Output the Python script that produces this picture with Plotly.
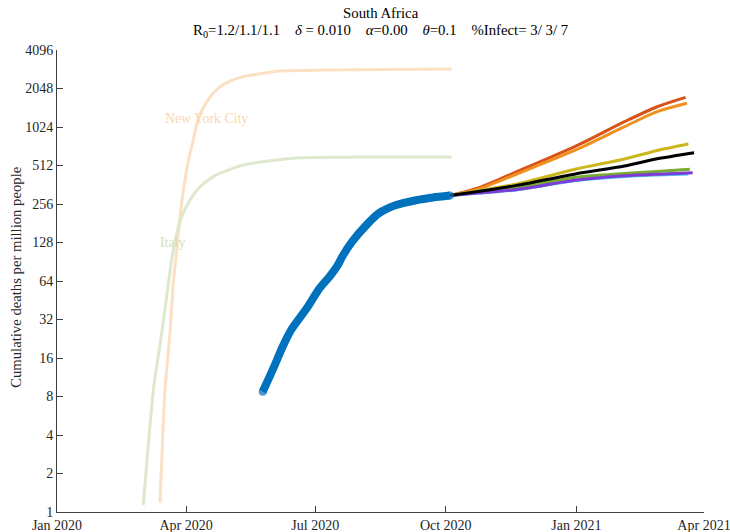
import plotly.graph_objects as go

# ---------------- data ----------------
nyc_dates = ["2020-03-13 14:00", "2020-03-17 02:00", "2020-03-20 14:00", "2020-03-22 23:00",
             "2020-03-25 10:00", "2020-03-27 17:00", "2020-03-31 05:00", "2020-04-03 17:00",
             "2020-04-06 02:00", "2020-04-09 14:00", "2020-04-14 07:00", "2020-04-19 00:00",
             "2020-04-24 22:00", "2020-05-01 22:00", "2020-05-11 07:00", "2020-05-20 17:00",
             "2020-06-06", "2020-07-11", "2020-10-05"]
nyc_vals = [1.18, 9.0, 24.9, 61.4, 112, 204, 394, 638, 810, 1199, 1520, 1823,
            2115, 2340, 2535, 2645, 2805, 2860, 2913]

italy_dates = ["2020-03-01 19:00", "2020-03-08 22:00", "2020-03-14 19:00", "2020-03-18 07:00",
               "2020-03-21 19:00", "2020-03-25 10:00", "2020-03-28 22:00", "2020-04-03 17:00",
               "2020-04-10 19:00", "2020-04-20 02:00", "2020-05-01 22:00", "2020-05-13 17:00",
               "2020-05-28 22:00", "2020-06-18", "2020-08-03 14:00", "2020-10-05"]
italy_vals = [1.13, 9.0, 24.9, 48.3, 93.4, 151, 204, 275, 349, 419, 478, 523,
              555, 586, 596, 596]

sa_dates = ["2020-05-25", "2020-06-01", "2020-06-08", "2020-06-14", "2020-06-25",
            "2020-07-04", "2020-07-11", "2020-07-17", "2020-07-20", "2020-07-27",
            "2020-08-06", "2020-08-15", "2020-08-27", "2020-09-10", "2020-09-22", "2020-10-04"]
sa_vals = [8.72, 12.9, 19.6, 26.5, 39.1, 56, 69, 85.5, 99, 130, 175, 217, 251, 274, 288, 298]

proj_dates = ["2020-10-04", "2020-10-25", "2020-11-20", "2021-01-01", "2021-02-04", "2021-02-27"]
proj_end_dates = ["2021-03-19", "2021-03-20", "2021-03-21", "2021-03-22", "2021-03-21", "2021-03-24", "2021-03-25"]
proj_red = [298, 345, 458, 730, 1127, 1475, 1747]
proj_orange = [298, 338, 439, 680, 1030, 1350, 1570]
proj_yellow = [298, 326, 367, 481, 576, 671, 754]
proj_green = [298, 318, 343, 415, 443, 460, 478]
proj_lightblue = [298, 312, 330, 390, 420, 432, 440]
proj_purple = [298, 313, 332, 394, 425, 438, 449]
proj_black = [298, 322, 358, 442, 508, 578, 645]

y_ticks = [1, 2, 4, 8, 16, 32, 64, 128, 256, 512, 1024, 2048, 4096]
x_ticks = ["2020-01-01", "2020-04-01", "2020-07-01", "2020-10-01", "2021-01-01", "2021-04-01"]
x_ticktext = ["Jan 2020", "Apr 2020", "Jul 2020", "Oct 2020", "Jan 2021", "Apr 2021"]

FONT = "Liberation Serif"
AX = "#404040"
TXT = "#262626"
SP = "\u00a0\u00a0\u00a0\u00a0"

fig = go.Figure()

fig.add_trace(go.Scatter(x=nyc_dates, y=nyc_vals, mode="lines",
                         line=dict(color="#FBE0C4", width=3, shape="spline", smoothing=0.5),
                         showlegend=False))
fig.add_trace(go.Scatter(x=italy_dates, y=italy_vals, mode="lines",
                         line=dict(color="#DEE8CC", width=3, shape="spline", smoothing=0.5),
                         showlegend=False))

proj_series = [
    (proj_red, "#D95319", 0),
    (proj_orange, "#F0901E", 1),
    (proj_yellow, "#CDB71E", 2),
    (proj_green, "#77AC30", 3),
    (proj_lightblue, "#4DBEEE", 4),
    (proj_purple, "#7E3BD6", 5),
    (proj_black, "#000000", 6),
]
for vals, col, i in proj_series:
    fig.add_trace(go.Scatter(x=proj_dates + [proj_end_dates[i]], y=vals, mode="lines",
                             line=dict(color=col, width=3, shape="spline", smoothing=0.8),
                             showlegend=False))

n_sa = len(sa_vals)
fig.add_trace(go.Scatter(x=sa_dates, y=sa_vals, mode="lines+markers",
                         line=dict(color="#0072BD", width=8, shape="spline", smoothing=0.6),
                         marker=dict(color="#0072BD", size=[8] + [0] * (n_sa - 2) + [8],
                                     line=dict(width=0)),
                         showlegend=False))

fig.add_annotation(x="2020-03-15 16:00", y=3.08, xref="x", yref="y", text="New York City",
                   showarrow=False, xanchor="left", yanchor="middle",
                   font=dict(family=FONT, size=13.8, color="#F9D6B0"))
fig.add_annotation(x="2020-03-12 05:00", y=2.107, xref="x", yref="y", text="Italy",
                   showarrow=False, xanchor="left", yanchor="middle",
                   font=dict(family=FONT, size=13.8, color="#D3E0BC"))

fig.add_annotation(x=0.5, y=1.080, xref="paper", yref="paper", text="South Africa",
                   showarrow=False, xanchor="center", yanchor="middle",
                   font=dict(family=FONT, size=14.8, color="black"))
fig.add_annotation(x=0.5, y=1.041, xref="paper", yref="paper",
                   text="R<sub>0</sub>=1.2/1.1/1.1" + SP + "<i>δ</i> = 0.010" + SP + "<i>α</i>=0.00"
                        + SP + "<i>θ</i>=0.1" + SP + "%Infect= 3/ 3/ 7",
                   showarrow=False, xanchor="center", yanchor="middle",
                   font=dict(family=FONT, size=14.8, color="black"))
fig.add_annotation(x=-0.0634, y=0.509, xref="paper", yref="paper",
                   text="Cumulative deaths per million people", textangle=-90,
                   showarrow=False, xanchor="center", yanchor="middle",
                   font=dict(family=FONT, size=14.7, color=TXT))

fig.update_layout(
    width=730, height=532,
    margin=dict(l=57, r=26, t=50, b=20, autoexpand=False),
    paper_bgcolor="white", plot_bgcolor="white",
    font=dict(family=FONT, size=14, color=TXT),
    xaxis=dict(type="date", range=["2020-01-01", "2021-04-01"], automargin=False,
               tickvals=x_ticks, ticktext=x_ticktext, ticklabeloverflow="allow",
               showgrid=False, zeroline=False, showline=True, linecolor=AX, linewidth=1,
               ticks="inside", ticklen=6, tickcolor=AX, tickwidth=1,
               tickfont=dict(family=FONT, size=14, color=TXT)),
    yaxis=dict(type="log", range=[0, 3.61236], automargin=False,
               tickvals=y_ticks, ticktext=[str(v) for v in y_ticks], ticklabeloverflow="allow",
               showgrid=False, zeroline=False, showline=True, linecolor=AX, linewidth=1,
               ticks="inside", ticklen=6, tickcolor=AX, tickwidth=1,
               tickfont=dict(family=FONT, size=14, color=TXT)),
)

fig.write_html("out.html")
